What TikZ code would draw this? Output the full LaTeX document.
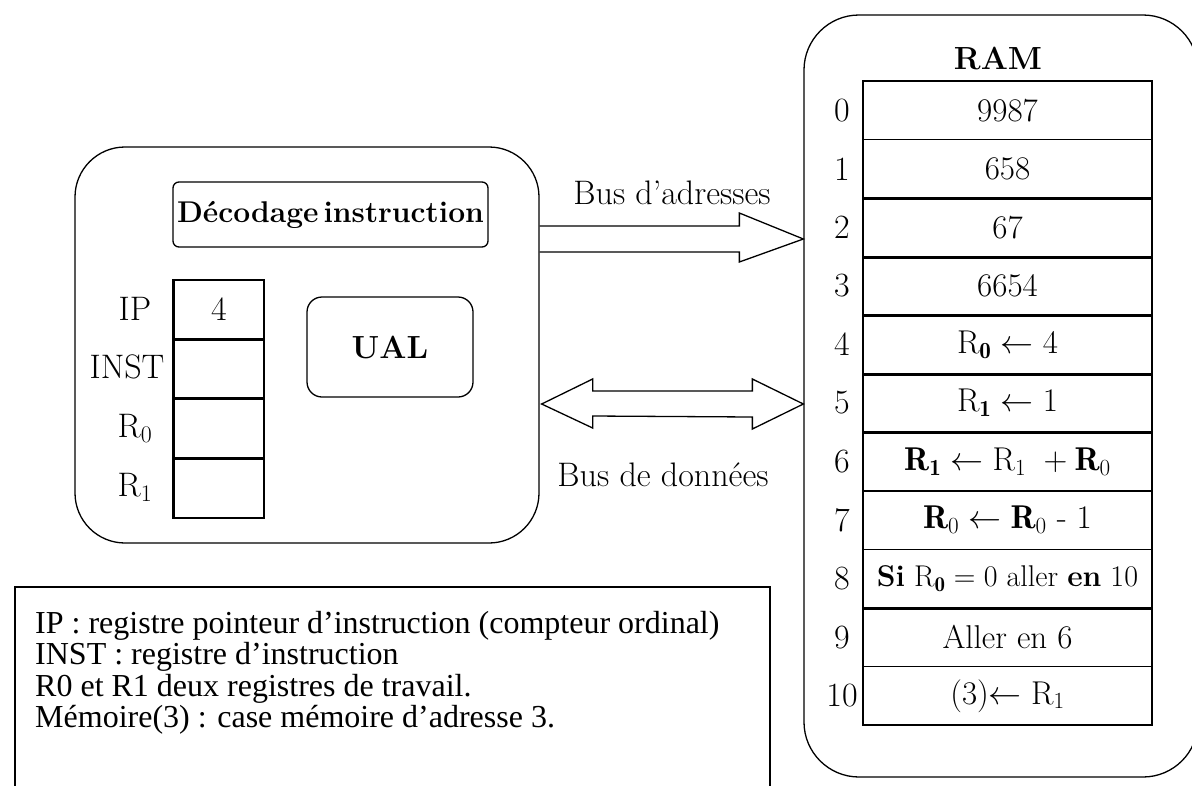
\RequirePackage{fix-cm}
\documentclass[tikz,border=0pt]{standalone}
\usepackage{fontspec}
\newfontfamily\tnr{Liberation Serif}
\usetikzlibrary{calc}
\begin{document}
\begin{tikzpicture}[x=1pt,y=-1pt,
  lw/.style={line width=1.3pt},
  thk/.style={line width=3pt},
  fnt/.style={font=\fontsize{34}{40}\selectfont},
  bigbox/.style={draw,lw,inner sep=0pt},
  regcell/.style={draw,lw,minimum width=90pt,minimum height=58.5pt,inner sep=0pt,fnt},
  ramcell/.style={draw,lw,minimum width=289pt,minimum height=58.55pt,inner sep=0pt,font=\fontsize{33}{40}\selectfont},
  lbl/.style={inner sep=0pt,fnt}]
\clip (0,0) rectangle (1192,785);
\fill[white] (0,0) rectangle (1192,785);

% CPU box
\node[bigbox,rounded corners=50pt,minimum width=464pt,minimum height=396pt] (cpu) at (307,345) {};
\node[bigbox,rounded corners=6pt,minimum width=315pt,minimum height=65pt,
      font=\fontsize{30}{36}\selectfont\bfseries] (dec) at (330.5,214.5) {Décodage\hspace{5pt}instruction};
\node[bigbox,rounded corners=15pt,minimum width=166pt,minimum height=100pt,
      font=\fontsize{32}{38}\selectfont\bfseries] (ual) at (390,347) {UAL};

% registers
\node[regcell] (ip) at (219,309.25) {4};
\node[regcell,anchor=north] (inst) at (ip.south) {};
\node[regcell,anchor=north] (r0) at (inst.south) {};
\node[regcell,anchor=north] (r1) at (r0.south) {};
\draw[thk] (ip.south west) -- (ip.south east);
\draw[thk] (inst.south west) -- (inst.south east);
\draw[thk] (r0.south west) -- (r0.south east);
\draw[line width=2.2pt] (ip.north west) -- (r1.south west);
\node[lbl] (lip) at (135,309) {IP};
\node[lbl] (linst) at (127,367) {INST};
\node[lbl] (lr0) at (135,428) {R$_0$};
\node[lbl] (lr1) at (135,487) {R$_1$};

% RAM box
\node[bigbox,rounded corners=55pt,minimum width=394pt,minimum height=762pt] (ram) at (1001,396) {};
\node[lbl,font=\fontsize{32}{38}\selectfont\bfseries] (ramt) at (998,58) {RAM};

\foreach \i/\txt in {0/9987,1/658,2/67,3/6654,
  4/{$\mathrm{R}_{\mathbf{0}}\leftarrow 4$},
  5/{$\mathrm{R}_{\mathbf{1}}\leftarrow 1$},
  6/{$\mathbf{R}_{\mathbf{1}}\leftarrow \mathrm{R}_1\ +\mathbf{R}_0$},
  7/{$\mathbf{R}_0\leftarrow \mathbf{R}_0$ - 1},
  8/{\fontsize{30}{36}\selectfont\textbf{Si} $\mathrm{R}_{\mathbf{0}}=0$ aller \textbf{en} 10},
  9/{Aller en 6},
  10/{(3)$\leftarrow\mathrm{R}_1$}}{
  \node[ramcell] (m\i) at (1007.5,{81+58.55*(\i+0.5)}) {\txt};
  \node[lbl] (n\i) at (842,{81+58.55*(\i+0.5)}) {\i};
}
\foreach \i in {1,2,3,4,5,8}{
  \draw[thk] (m\i.south west) -- (m\i.south east);
}

% bus d'adresses
\coordinate (ay) at (0,239);
\coordinate (aS) at (cpu.east |- ay);
\coordinate (aT) at (ram.west |- ay);
\draw[lw,line join=miter] ($(aS)+(0,-13)$) -- ($(aT)+(-64,-13)$) -- ($(aT)+(-64,-26)$) -- (aT)
   -- ($(aT)+(-64,23)$) -- ($(aT)+(-64,13)$) -- ($(aS)+(0,13)$);
\node[lbl] (bad) at (672,193) {Bus d'adresses};

% bus de donnees
\coordinate (dy) at (0,404);
\coordinate (dL) at ($(cpu.east |- dy)+(2,0)$);
\coordinate (dR) at (ram.west |- dy);
\draw[lw,line join=miter] (dL) -- ++(51,-25) -- ++(0,12) -- ($(dR)+(-51,-13)$) -- ++(0,-12) -- (dR)
   -- ++(-51,25) -- ++(0,-12) -- ($(dL)+(51,12)$) -- ++(0,12) -- cycle;
\node[lbl] (bdd) at (663,475) {Bus de données};

% legend box
\node[bigbox,minimum width=755pt,minimum height=213pt] (leg) at (392.5,693.5) {};
\node[anchor=north west,inner sep=0pt,align=left,font=\tnr\fontsize{32}{31.5}\selectfont] (legt) at (35,611)
  {IP : registre pointeur d’instruction (compteur ordinal)\\
   INST : registre d’instruction\\
   R0 et R1 deux registres de travail.\\
   Mémoire(3) : case mémoire d’adresse 3.};
\end{tikzpicture}
\end{document}
